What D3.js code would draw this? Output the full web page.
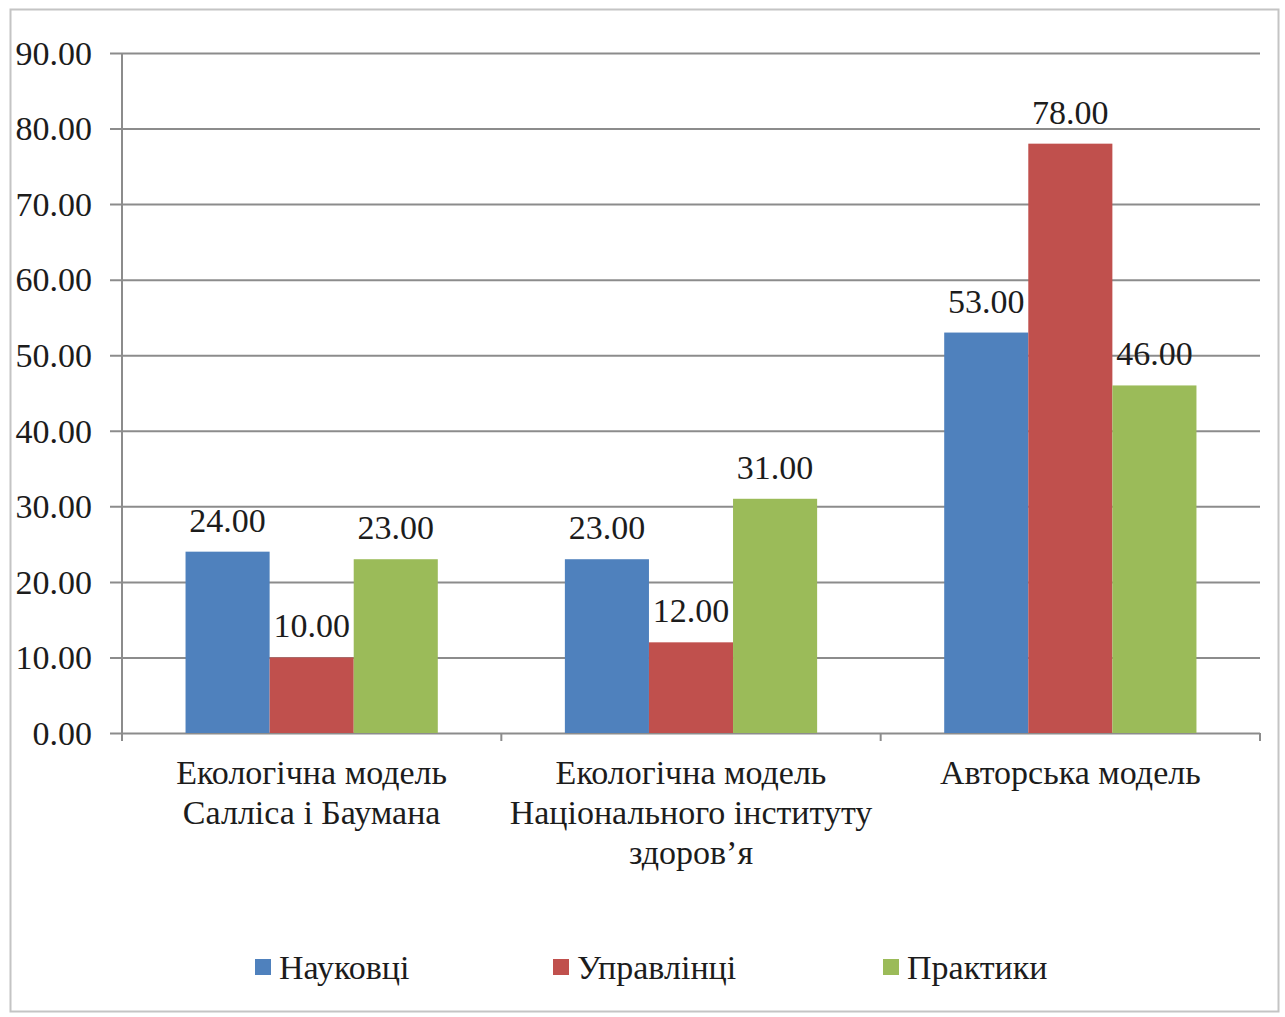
<!DOCTYPE html>
<html>
<head>
<meta charset="utf-8">
<script src="https://cdn.jsdelivr.net/npm/d3@7"></script>
</head>
<body style="margin:0">
<svg id="chart" width="1285" height="1017" style="font-family:'Liberation Serif'"></svg>
<script>
// chart data
const categories = [
  ["Екологічна модель", "Салліса і Баумана"],
  ["Екологічна модель", "Національного інституту", "здоров’я"],
  ["Авторська модель"]
];
const seriesNames = ["Науковці", "Управлінці", "Практики"];
const naukovtsi = [24, 23, 53];
const upravlintsi = [10, 12, 78];
const praktyky = [23, 31, 46];
const yTicks = [0, 10, 20, 30, 40, 50, 60, 70, 80, 90];
const colors = ["#4F81BD", "#C0504D", "#9BBB59"];

const width = 1285, height = 1017;
const margin = {top: 53, right: 25, bottom: 284, left: 122};
const fontSize = 34;

const svg = d3.select("#chart");

// outer frame
svg.append("rect")
  .attr("x", 10.5).attr("y", 9.5)
  .attr("width", 1268).attr("height", 1002)
  .attr("fill", "none")
  .attr("stroke", "#c4c4c4")
  .attr("stroke-width", 2);

const catIdx = categories.map((d, i) => i);
const x = d3.scaleBand()
  .domain(catIdx)
  .range([margin.left, width - margin.right])
  .paddingInner(0.335)
  .paddingOuter(0.1675);

const y = d3.scaleLinear()
  .domain([0, 90])
  .range([height - margin.bottom, margin.top]);

const xSub = d3.scaleBand()
  .domain(d3.range(seriesNames.length))
  .range([0, x.bandwidth()]);

// grid + y axis
const yAxis = d3.axisLeft(y)
  .tickValues(yTicks)
  .tickSize(width - margin.right - margin.left + 12)
  .tickFormat(d3.format(".2f"))
  .tickPadding(18);

const gy = svg.append("g")
  .attr("transform", `translate(${width - margin.right},0)`)
  .call(yAxis);
gy.attr("font-family", null).attr("font-size", null);
gy.select(".domain").remove();
gy.selectAll(".tick line").attr("stroke", "#8c8c8c").attr("stroke-width", 2);
gy.selectAll(".tick text")
  .attr("x", -(width - margin.right - margin.left) - 30)
  .attr("dy", "0.33em");

// y axis vertical line
svg.append("line")
  .attr("x1", margin.left).attr("x2", margin.left)
  .attr("y1", y(90)).attr("y2", y(0) + 8)
  .attr("stroke", "#8c8c8c").attr("stroke-width", 2);

// x category boundary ticks
const bounds = catIdx.map(i => x(i) - x.step() * x.paddingInner() / 2).concat([width - margin.right]);
svg.selectAll(".xtick").data(bounds.slice(1)).enter().append("line")
  .attr("x1", d => d).attr("x2", d => d)
  .attr("y1", y(0)).attr("y2", y(0) + 8)
  .attr("stroke", "#8c8c8c").attr("stroke-width", 2);

// bars
const allSeries = [naukovtsi, upravlintsi, praktyky];
allSeries.forEach((vals, s) => {
  svg.append("g").selectAll("rect")
    .data(vals).enter().append("rect")
    .attr("x", (d, i) => x(i) + xSub(s))
    .attr("y", d => y(d))
    .attr("width", xSub.bandwidth())
    .attr("height", d => y(0) - y(d))
    .attr("fill", colors[s]);

  svg.append("g").selectAll("text")
    .data(vals).enter().append("text")
    .attr("x", (d, i) => x(i) + xSub(s) + xSub.bandwidth() / 2)
    .attr("y", d => y(d) - 20)
    .attr("text-anchor", "middle")
    .text(d => d.toFixed(2));
});

// category labels
categories.forEach((lines, i) => {
  const t = svg.append("text")
    .attr("text-anchor", "middle");
  lines.forEach((ln, j) => {
    t.append("tspan")
      .attr("x", x(i) + x.bandwidth() / 2)
      .attr("y", y(0) + 51 + j * 40)
      .text(ln);
  });
});

// legend
const legendX = [255, 553, 883];
const lg = svg.append("g");
seriesNames.forEach((name, i) => {
  lg.append("rect")
    .attr("x", legendX[i]).attr("y", 959)
    .attr("width", 16).attr("height", 16)
    .attr("fill", colors[i]);
  lg.append("text")
    .attr("x", legendX[i] + 24).attr("y", 979)
    .text(name);
});

// same serif face for every label
svg.selectAll("text")
  .attr("font-family", "Liberation Serif")
  .attr("font-size", fontSize)
  .attr("fill", "#1c1c1c")
  .style("font-family", "'Liberation Serif'");
</script>
</body>
</html>
